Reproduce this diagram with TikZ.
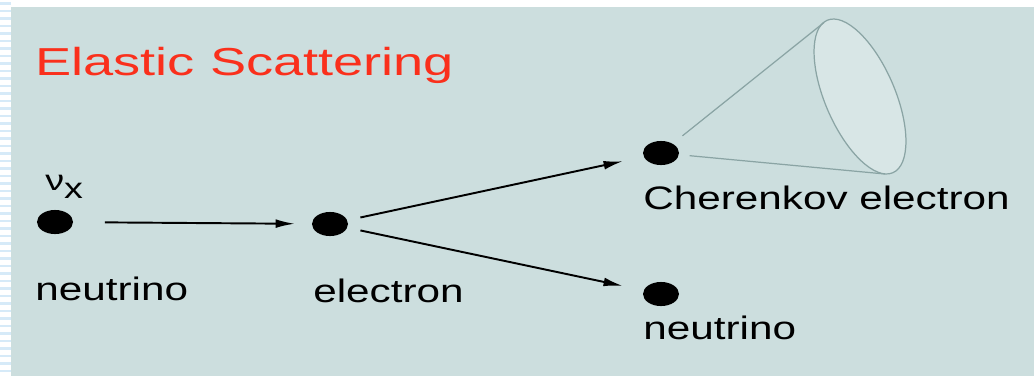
\documentclass[tikz,border=0pt]{standalone}
\usepackage{fontspec}
\usetikzlibrary{arrows.meta,shapes.geometric}

\newfontfamily\titlefont[FakeStretch=1.39]{Liberation Sans}
\newfontfamily\labelfont[FakeStretch=1.3]{Liberation Sans}

\definecolor{panel}{RGB}{204,222,222}
\definecolor{titlered}{RGB}{250,48,28}
\definecolor{conegray}{RGB}{138,164,164}
\definecolor{conefill}{RGB}{216,230,230}
\definecolor{stripe}{RGB}{214,234,248}

\tikzset{
	particle/.style={ellipse, fill=black, inner sep=0pt, minimum width=20.5pt, minimum height=13.7pt},
	lbl/.style={anchor=base west, inner sep=0pt, font=\labelfont\fontsize{18.5}{20}\selectfont},
	track/.style={line width=1.1pt, -{Latex[length=11pt,width=5pt]}},
	cone/.style={draw=conegray, line width=0.7pt}
}

\begin{document}
\begin{tikzpicture}[x=0.02cm, y=-0.02cm]
		% one unit is one pixel, y runs downwards
		\useasboundingbox (0,0) rectangle (1034,376);
		
		% paper with the ruled margin
		\fill[white] (0,0) rectangle (1034,376);
		\foreach \y in {2,9.5,...,372}
			\fill[stripe] (0,\y) rectangle (11,\y+2.5);
		\fill[panel] (11,7) rectangle (1034,376);
		
		\node[anchor=base west, inner sep=0pt, text=titlered, font=\titlefont\fontsize{22.2}{24}\selectfont] (title) at (35,75) {Elastic Scattering};
		
		% the particles
		\node[particle] (nu) at (55,222) {};
		\node[particle] (e) at (330,224) {};
		\node[particle] (ce) at (661,153) {};
		\node[particle] (nuout) at (661,294) {};
		
		\node[lbl, font=\labelfont\fontsize{16.5}{18}\selectfont] (flavour) at (45,190) {ν\raisebox{-5pt}{x}};
		\node[lbl] (nulbl) at (35,300) {neutrino};
		\node[lbl] (elbl) at (313,302) {electron};
		\node[lbl] (celbl) at (643,209) {Cherenkov electron};
		\node[lbl] (nuoutlbl) at (643,339) {neutrino};
		
		% tracks
		\draw[track, shorten <=18pt, shorten >=9.5pt] (nu) -- (e);
		\draw[track, shorten <=7.5pt, shorten >=12pt] (e) -- (ce);
		\draw[track, shorten <=7.5pt, shorten >=12pt] (e) -- (nuout);
		
		% light cone of the electron
		\coordinate (rimtop) at (824,22.5);
		\coordinate (rimbottom) at (885,174);
		\draw[cone, fill=conefill, rotate around={-66.7:(860,96.5)}] (860,96.5) ellipse [x radius=83, y radius=35];
		\draw[cone, shorten <=7pt] (ce) -- (rimtop);
		\draw[cone, shorten <=6pt] (ce) -- (rimbottom);
		%\draw[help lines] (0,0) grid[step=50] (1034,376);
\end{tikzpicture}
\end{document}
